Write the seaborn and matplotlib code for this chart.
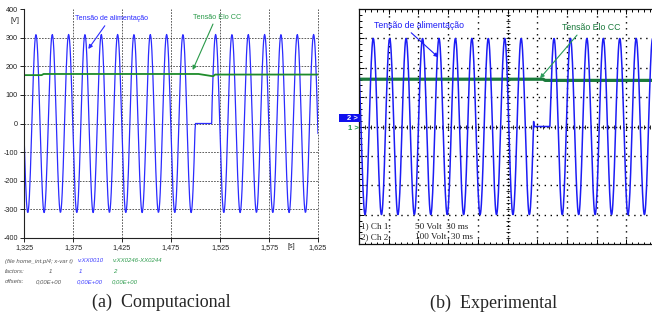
import numpy as np
import matplotlib
matplotlib.use("Agg")
import matplotlib.pyplot as plt
from matplotlib.patches import Rectangle
import seaborn as sns

# ---------------- data: (a) Computacional ----------------
sim_window_s = [1.325, 1.625]
sim_supply_amplitude_v = 311.0
sim_supply_freq_hz = 60.0
sim_first_peak_s = 1.3372
sim_outage_s = [1.4995, 1.5165]
sim_dc_time_s = [1.325, 1.343, 1.345, 1.503, 1.518, 1.520, 1.625]
sim_dc_v = [169, 169, 173, 173, 165, 171, 171]
sim_x_ticks = [1.325, 1.375, 1.425, 1.475, 1.525, 1.575, 1.625]
sim_x_tick_labels = ["1,325", "1,375", "1,425", "1,475", "1,525", "1,575", "1,625"]
sim_y_ticks = [-400, -300, -200, -100, 0, 100, 200, 300, 400]
sim_y_tick_labels = ["-400", "-300", "-200", "-100", "0", "100", "200", "300", "400"]
sim_info_rows = [
    ["(file home_int.pl4; x-var t)", "v:XX0010", "v:XX0246-XX0244"],
    ["factors:", "1", "1", "2"],
    ["offsets:", "0,00E+00", "0,00E+00", "0,00E+00"],
]

# ---------------- data: (b) Experimental ----------------
exp_window_ms = [0, 300]
exp_supply_amplitude_v = 300.0
exp_supply_period_ms = 16.6
exp_first_peak_ms = 14.4
exp_outage_ms = [176.5, 192.9]
exp_dc_time_ms = [0, 186, 188, 300]
exp_dc_v = [161, 161, 157, 157]
exp_scale_names = ["1) Ch 1:", "2) Ch 2:"]
exp_scale_values = ["50 Volt  30 ms", "100 Volt  30 ms"]

# ---------------- styling ----------------
sns.set_style("ticks")
plt.rcParams["font.family"] = ["Liberation Sans", "DejaVu Sans"]
NARROW = ["Liberation Sans", "DejaVu Sans"]
SERIF = ["Liberation Serif", "DejaVu Serif"]

BLUE_A = "#2b2bff"
GREEN_A = "#1e8c2a"
BLUE_B = "#1c1cf5"
GREEN_B = "#1a7a3c"

W, H = 652, 320
fig = plt.figure(figsize=(W / 100, H / 100), dpi=100)


def fpx(x, y):
    return (x / W, 1 - y / H)


# ================= panel (a) =================
ax1 = fig.add_axes([24 / W, 1 - 238 / H, 294 / W, 229 / H])
t_sim = np.arange(sim_window_s[0], sim_window_s[1] + 1e-9, 0.0005)
v_sim = sim_supply_amplitude_v * np.cos(2 * np.pi * sim_supply_freq_hz * (t_sim - sim_first_peak_s))
v_sim[(t_sim >= sim_outage_s[0]) & (t_sim <= sim_outage_s[1])] = 0.0

for y in sim_y_ticks[1:-1]:
    ax1.axhline(y, color="#444444", lw=0.6, ls=(0, (2, 1.5)), zorder=0)
for x in sim_x_ticks[1:]:
    ax1.axvline(x, color="#444444", lw=0.6, ls=(0, (2, 1.5)), zorder=0, clip_on=False)

sns.lineplot(x=t_sim, y=v_sim, ax=ax1, color=BLUE_A, lw=0.9, estimator=None, sort=False)
sns.lineplot(x=sim_dc_time_s, y=sim_dc_v, ax=ax1, color=GREEN_A, lw=1.3, estimator=None, sort=False)

ax1.set_xlim(*sim_window_s)
ax1.set_ylim(sim_y_ticks[0], sim_y_ticks[-1])
ax1.set_xticks(sim_x_ticks, sim_x_tick_labels)
ax1.set_yticks(sim_y_ticks, sim_y_tick_labels)
ax1.tick_params(direction="out", length=3, width=0.7, labelsize=5.2, pad=1.5, colors="#222222")
for lab in ax1.get_xticklabels() + ax1.get_yticklabels():
    lab.set_family(NARROW)
ax1.spines["top"].set_visible(False)
ax1.spines["right"].set_visible(False)
for s in ("left", "bottom"):
    ax1.spines[s].set_color("#222222")
    ax1.spines[s].set_linewidth(0.8)

fig.text(*fpx(15, 20.5), "[V]", fontsize=5.2, family=NARROW, ha="center", va="center", color="#222222")
fig.text(*fpx(291.5, 246.5), "[s]", fontsize=5.2, family=NARROW, ha="center", va="center", color="#222222")

ax1.annotate("Tensão de alimentação", xy=fpx(88.3, 49), xycoords="figure fraction",
             xytext=fpx(75, 19), textcoords="figure fraction", ha="left", va="center",
             fontsize=5.1, family=NARROW, color=BLUE_A,
             arrowprops=dict(arrowstyle="-|>", color=BLUE_A, lw=0.8, mutation_scale=6,
                             shrinkA=0, shrinkB=0, relpos=(0.44, 0.0)))
ax1.annotate("Tensão Elo CC", xy=fpx(192.7, 70), xycoords="figure fraction",
             xytext=fpx(192.7, 17.3), textcoords="figure fraction", ha="left", va="center",
             fontsize=5.2, family=NARROW, color="#2a9a4a",
             arrowprops=dict(arrowstyle="-|>", color="#2a9a4a", lw=0.8, mutation_scale=6,
                             shrinkA=0, shrinkB=0, relpos=(0.45, 0.0)))

# info rows under panel (a)
row_y = [261, 271.5, 281.5]
col_x = [[5, 77.5, 112.5], [5, 49, 79, 113], [5, 36, 77, 111.5]]
col_c = [["#555555", "#3a3aff", "#2a9a4a"], ["#555555", "#555555", "#3a3aff", "#2a9a4a"],
         ["#555555", "#555555", "#3a3aff", "#2a9a4a"]]
for r, (txts, xs, cs) in enumerate(zip(sim_info_rows, col_x, col_c)):
    for t, x, c in zip(txts, xs, cs):
        fig.text(*fpx(x, row_y[r]), t, fontsize=4.3, family=NARROW, style="italic",
                 color=c, ha="left", va="center")

fig.text(*fpx(161, 302), "(a)  Computacional", fontsize=13, family=SERIF, ha="center", va="center")

# ================= panel (b) =================
ax2 = fig.add_axes([359 / W, 1 - 244 / H, 297 / W, 235 / H])
t_exp = np.arange(exp_window_ms[0], exp_window_ms[1] + 1e-9, 0.4)
v_exp = exp_supply_amplitude_v * np.cos(2 * np.pi * (t_exp - exp_first_peak_ms) / exp_supply_period_ms)
v_exp[(t_exp >= exp_outage_ms[0]) & (t_exp <= exp_outage_ms[1])] = 0.0

dot = (0, (1, 3.3))
for x in range(30, 300, 30):
    if x != 150:
        ax2.axvline(x, color="black", lw=1.0, ls=dot, zorder=0)
for y in range(-300, 400, 100):
    if y != 0:
        ax2.axhline(y, color="black", lw=1.0, ls=dot, zorder=0)
ax2.axvline(150, color="black", lw=1.0, ls=(0, (1, 1.6)), zorder=0)
ax2.axhline(0, color="black", lw=1.0, ls=(0, (1, 1.6)), zorder=0)
mx = np.arange(0, 301, 6)
my = np.arange(-400, 401, 20)
ax2.plot(mx, np.zeros_like(mx), ls="none", marker="|", ms=3, mew=0.6, color="black", zorder=0)
ax2.plot(np.full_like(my, 150), my, ls="none", marker="_", ms=3, mew=0.6, color="black", zorder=0)

sns.lineplot(x=exp_dc_time_ms, y=exp_dc_v, ax=ax2, color=GREEN_B, lw=2.3, estimator=None, sort=False)
sns.lineplot(x=t_exp, y=v_exp, ax=ax2, color=BLUE_B, lw=1.1, estimator=None, sort=False)

ax2.set_xlim(*exp_window_ms)
ax2.set_ylim(-400, 400)
ax2.set_xticks(np.arange(0, 301, 30))
ax2.set_xticks(np.arange(0, 301, 6), minor=True)
ax2.set_yticks(np.arange(-400, 401, 100))
ax2.set_yticks(np.arange(-400, 401, 20), minor=True)
ax2.tick_params(which="both", direction="in", labelbottom=False, labelleft=False,
                top=True, color="black", width=0.7)
ax2.tick_params(which="major", length=3.5)
ax2.tick_params(which="minor", length=1.8)
ax2.spines["right"].set_visible(False)
for s in ("left", "bottom", "top"):
    ax2.spines[s].set_color("#111111")
    ax2.spines[s].set_linewidth(0.9)

for i, (n, v) in enumerate(zip(exp_scale_names, exp_scale_values)):
    ax2.text(0.008, 0.074 - i * 0.045, n, transform=ax2.transAxes, fontsize=6.6, family=SERIF,
             ha="left", va="center", color="#222222")
    ax2.text(0.188, 0.074 - i * 0.045, v, transform=ax2.transAxes, fontsize=6.6, family=SERIF,
             ha="left", va="center", color="#222222")

ax2.annotate("Tensão de alimentação", xy=fpx(438.3, 57.3), xycoords="figure fraction",
             xytext=fpx(374.3, 25), textcoords="figure fraction", ha="left", va="center",
             fontsize=6.3, color=BLUE_B,
             arrowprops=dict(arrowstyle="-|>", color=BLUE_B, lw=0.8, mutation_scale=6,
                             shrinkA=0, shrinkB=0, relpos=(0.37, 0.0)))
ax2.annotate("Tensão Elo CC", xy=fpx(540, 78.3), xycoords="figure fraction",
             xytext=fpx(562.3, 27.3), textcoords="figure fraction", ha="left", va="center",
             fontsize=6.3, color=GREEN_B,
             arrowprops=dict(arrowstyle="-|>", color="#2a9a5a", lw=0.8, mutation_scale=6,
                             shrinkA=0, shrinkB=0, relpos=(0.3, 0.0)))

# channel markers
fig.add_artist(Rectangle(fpx(339, 122), 21 / W, 8 / H, transform=fig.transFigure,
                         facecolor="#1010ee", edgecolor="none"))
fig.text(*fpx(352, 118), "2 >", fontsize=5.5, fontweight="bold", color="white", ha="center", va="center")
fig.text(*fpx(353, 128), "1 >", fontsize=5.5, fontweight="bold", color="#1a9a4a", ha="center", va="center")

fig.text(*fpx(494, 303), "(b)  Experimental", fontsize=13, family=SERIF, ha="center", va="center")

fig.savefig("out.png", dpi=100)
